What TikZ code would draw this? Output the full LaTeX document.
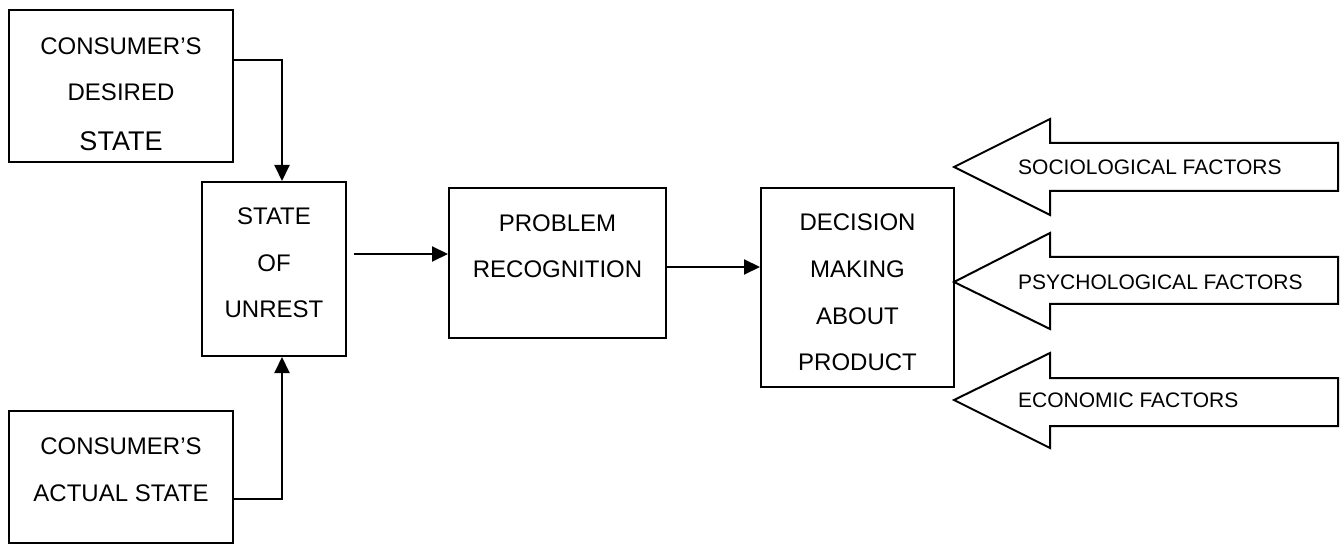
\documentclass[tikz,border=0pt]{standalone}
\usepackage{fontspec}
\setmainfont{Liberation Sans}
\usetikzlibrary{arrows.meta}
\tikzset{
  boxnode/.style={draw=black, line width=2pt, inner sep=0pt, fill=white},
  txt/.style={inner sep=0pt, font=\fontsize{24}{28}\selectfont},
  bigtxt/.style={inner sep=0pt, font=\fontsize{27}{30}\selectfont},
  factxt/.style={inner sep=0pt, anchor=west, font=\fontsize{21}{25}\selectfont},
  arr/.style={line width=2pt, -{Triangle[length=16pt,width=15pt]}},
  fatarrow/.style={draw=black, line width=2pt, line join=miter, fill=white}
}
\begin{document}
\begin{tikzpicture}[x=1pt,y=-1pt]
\useasboundingbox (0,0) rectangle (1344,545);
% boxes
\node[boxnode, minimum width=224pt, minimum height=152pt] (b1) at (121,86) {};
\node[boxnode, minimum width=144pt, minimum height=174pt] (b2) at (274,269) {};
\node[boxnode, minimum width=217pt, minimum height=150pt] (b3) at (557.5,263) {};
\node[boxnode, minimum width=193pt, minimum height=199pt] (b4) at (857.5,287.5) {};
\node[boxnode, minimum width=224pt, minimum height=132pt] (b5) at (121,477) {};
% box texts
\node[txt] (t11) at (121,46) {CONSUMER’S};
\node[txt] (t12) at (121,92) {DESIRED};
\node[bigtxt] (t13) at (121,141) {STATE};
\node[txt] (t21) at (274,216) {STATE};
\node[txt] (t22) at (274,263) {OF};
\node[txt] (t23) at (274,309) {UNREST};
\node[txt] (t31) at (557.5,223) {PROBLEM};
\node[txt] (t32) at (557.5,269) {RECOGNITION};
\node[txt] (t41) at (857.5,222) {DECISION};
\node[txt] (t42) at (857.5,269) {MAKING};
\node[txt] (t43) at (857.5,316) {ABOUT};
\node[txt] (t44) at (857.5,362) {PRODUCT};
\node[txt] (t51) at (121,446) {CONSUMER’S};
\node[txt] (t52) at (121,493) {ACTUAL STATE};
% connectors
\draw[arr] ([yshift=26pt]b1.east) -| ([xshift=8pt]b2.north);
\draw[arr] ([yshift=-22pt]b5.east) -| ([xshift=8pt]b2.south);
\draw[arr] ([xshift=7pt,yshift=15pt]b2.east) -- ([yshift=9pt]b3.west);
\draw[arr] ([yshift=-4pt]b3.east) -- ([yshift=20.5pt]b4.west);
% fat arrows
\draw[fatarrow] (954,167) -- (1050,119) -- (1050,143) -- (1338,143) -- (1338,191) -- (1050,191) -- (1050,215) -- cycle;
\draw[fatarrow] (954,282) -- (1050,233) -- (1050,257) -- (1338,257) -- (1338,304) -- (1050,304) -- (1050,329) -- cycle;
\draw[fatarrow] (954,400) -- (1050,353) -- (1050,378) -- (1338,378) -- (1338,426) -- (1050,426) -- (1050,448) -- cycle;
\node[factxt] (f1) at (1018,167) {SOCIOLOGICAL FACTORS};
\node[factxt] (f2) at (1018,282) {PSYCHOLOGICAL FACTORS};
\node[factxt] (f3) at (1018,400) {ECONOMIC FACTORS};
\end{tikzpicture}
\end{document}
